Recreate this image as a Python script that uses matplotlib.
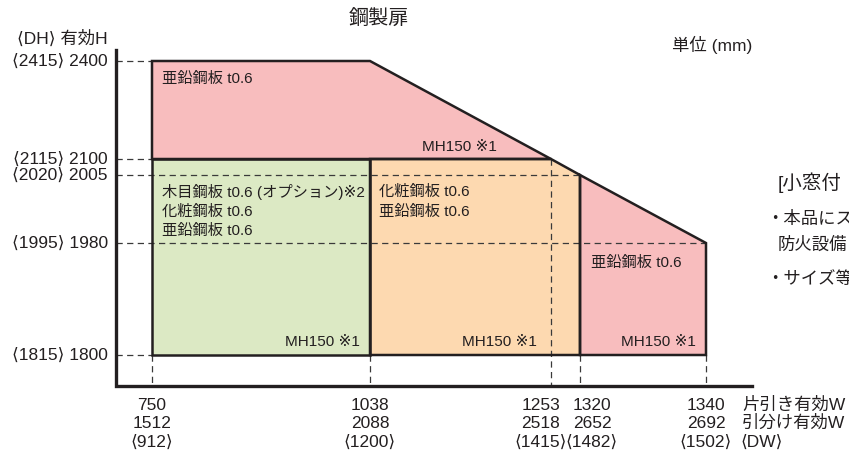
import numpy as np
import matplotlib
matplotlib.use("Agg")
import matplotlib.pyplot as plt
from matplotlib.patches import Polygon

plt.rcParams['font.family'] = ['Liberation Sans', 'DejaVu Sans', 'Noto Sans CJK JP']

# --- data (mm) ---
w_single = [750, 1038, 1253, 1320, 1340]      # 片引き有効W
w_double = [1512, 2088, 2518, 2652, 2692]     # 引分け有効W
w_dw = [912, 1200, 1415, 1482, 1502]          # DW
h_eff = [1800, 1980, 2005, 2100, 2400]        # 有効H
h_dh = [1815, 1995, 2020, 2115, 2415]         # DH

# regions (corner points as (W, H))
top_pink = [(750, 2400), (1038, 2400), (1253, 2100), (750, 2100)]
green = [(750, 2100), (1038, 2100), (1038, 1800), (750, 1800)]
orange = [(1038, 2100), (1253, 2100), (1320, 2005), (1320, 1800), (1038, 1800)]
right_pink = [(1320, 2005), (1340, 1980), (1340, 1800), (1320, 1800)]

PINK = '#f8bdbe'
GREEN = '#dce9c4'
ORANGE = '#fdd9b0'
INK = '#231f20'

# layout: where the (non-linear) ticks sit on the sheet, in pixels
X_POS = [152, 370, 551, 580, 706]
Y_POS = [355, 243, 175, 159, 61]
X_AXIS_Y = 386
Y_AXIS_X = 116


def px(w):
    return np.interp(w, w_single, X_POS)


def py(h):
    return np.interp(h, h_eff, Y_POS)


def poly(pts):
    return [(px(w), py(h)) for w, h in pts]


fig = plt.figure(figsize=(8.49, 4.57), dpi=100)
ax = fig.add_axes([0, 0, 1, 1])
ax.set_xlim(0, 849)
ax.set_ylim(457, 0)
ax.axis('off')

# fills
for pts, col in [(top_pink, PINK), (green, GREEN), (orange, ORANGE), (right_pink, PINK)]:
    ax.add_patch(Polygon(poly(pts), closed=True, facecolor=col, edgecolor='none', zorder=1))

# dashed guide lines
dash = dict(color='#3a3a3a', lw=0.9, ls=(0, (5, 3.5)), zorder=2)
for h in h_eff:
    end = 750
    if h == 2005:
        end = 1320
    elif h == 1980:
        end = 1340
    ax.plot([Y_AXIS_X, px(end)], [py(h), py(h)], **dash)
for w in w_single:
    top = 2100 if w == 1253 else 1800
    ax.plot([px(w), px(w)], [py(top), X_AXIS_Y], **dash)

# outlines
for pts in [top_pink, green, orange, right_pink]:
    ax.add_patch(Polygon(poly(pts), closed=True, facecolor='none', edgecolor=INK,
                         lw=1.8, joinstyle='miter', zorder=3))

# axes L
ax.plot([Y_AXIS_X, Y_AXIS_X, 752], [50, X_AXIS_Y, X_AXIS_Y], color=INK, lw=2.4,
        solid_joinstyle='miter', zorder=4)

FS = 12.5

# y tick labels
for h, d in zip(h_eff, h_dh):
    ax.text(108, py(h), f'⟨{d}⟩ {h}', ha='right', va='center', fontsize=FS, color=INK)
ax.text(108, 38, '⟨DH⟩ 有効H', ha='right', va='center', fontsize=FS, color=INK)

# x tick labels
x_shift = [0, 0, -10, 12, 0]
for w1, w2, d, dx in zip(w_single, w_double, w_dw, x_shift):
    x = px(w1) + dx
    ax.text(x, 405, str(w1), ha='center', va='center', fontsize=FS, color=INK)
    ax.text(x, 423, str(w2), ha='center', va='center', fontsize=FS, color=INK)
    ax.text(x, 442, f'⟨{d}⟩', ha='center', va='center', fontsize=FS, color=INK)
ax.text(742, 405, '片引き有効W', ha='left', va='center', fontsize=FS, color=INK)
ax.text(742, 423, '引分け有効W', ha='left', va='center', fontsize=FS, color=INK)
ax.text(740, 442, '⟨DW⟩', ha='left', va='center', fontsize=FS, color=INK)

# titles
ax.text(379, 19, '鋼製扉', ha='center', va='center', fontsize=14.5, color=INK)
ax.text(752, 45, '単位 (mm)', ha='right', va='center', fontsize=FS, color=INK)

# region labels
lab = dict(fontsize=11, color=INK, va='center', zorder=5)
ax.text(162, 79, '亜鉛鋼板 t0.6', ha='left', **lab)
ax.text(497, 147, 'MH150 ※1', ha='right', **lab)
ax.text(162, 192, '木目鋼板 t0.6 (オプション)※2', ha='left', **lab)
ax.text(162, 212, '化粧鋼板 t0.6', ha='left', **lab)
ax.text(162, 231, '亜鉛鋼板 t0.6', ha='left', **lab)
ax.text(360, 342, 'MH150 ※1', ha='right', **lab)
ax.text(379, 192, '化粧鋼板 t0.6', ha='left', **lab)
ax.text(379, 212, '亜鉛鋼板 t0.6', ha='left', **lab)
ax.text(537, 342, 'MH150 ※1', ha='right', **lab)
ax.text(591, 263, '亜鉛鋼板 t0.6', ha='left', **lab)
ax.text(696, 342, 'MH150 ※1', ha='right', **lab)

# neighbouring panel, cut off at the edge as in the source
ax.text(778, 183, '[小窓付', ha='left', va='center', fontsize=14, color=INK)
ax.text(766, 219, '・本品にス', ha='left', va='center', fontsize=FS, color=INK)
ax.text(778, 245, '防火設備', ha='left', va='center', fontsize=FS, color=INK)
ax.text(766, 279, '・サイズ等', ha='left', va='center', fontsize=FS, color=INK)

fig.savefig('out.png', dpi=100)
